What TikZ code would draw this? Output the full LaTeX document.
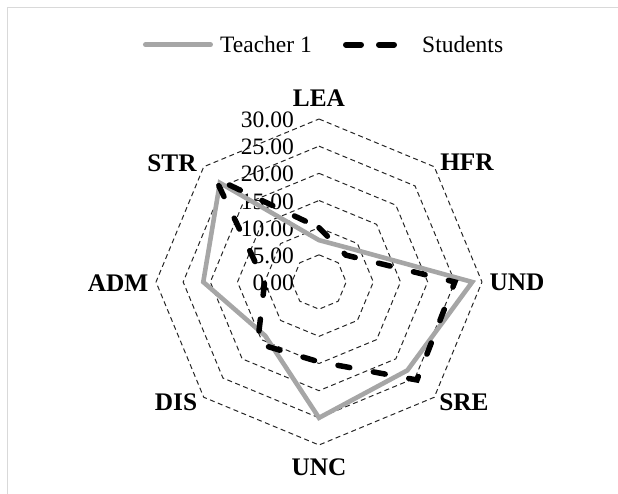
\documentclass[tikz,border=0pt]{standalone}
\usepackage{fontspec}
\setmainfont{Liberation Serif}
\definecolor{teachgray}{RGB}{166,166,166}
\definecolor{framegray}{RGB}{217,217,217}
\begin{document}
\begin{tikzpicture}[x=1pt,y=1pt,
  ring/.style={draw=black!85, line width=1pt, dash pattern=on 5pt off 3.5pt, line join=round},
  teacher/.style={draw=teachgray, line width=4.6pt, line join=miter},
  students/.style={draw=black, line width=5.5pt, dash pattern=on 12pt off 24pt, line cap=round, line join=miter},
  axlab/.style={font=\fontsize{25.3}{28}\selectfont\bfseries, inner sep=0pt},
  ticklab/.style={font=\fontsize{23.5}{28}\selectfont, inner sep=0pt, anchor=east},
  leglab/.style={font=\fontsize{23.5}{28}\selectfont, inner sep=0pt, anchor=west}]
\useasboundingbox (-319,-211) rectangle (299,282);
\clip (-319,-211) rectangle (299,282);
\def\u{5.4333}
% frame
\coordinate (frBL) at (-311,-230);
\coordinate (frTL) at (-311,274);
\coordinate (frTR) at (320,274);
\draw[framegray, line width=1pt] (frBL) -- (frTL) -- (frTR);
% rings
\foreach \v in {5,10,15,20,25,30}{
  \draw[ring] (90:{\v*\u}) -- (45:{\v*\u}) -- (0:{\v*\u}) -- (-45:{\v*\u}) -- (-90:{\v*\u}) -- (-135:{\v*\u}) -- (180:{\v*\u}) -- (135:{\v*\u}) -- cycle;
}
% tick labels
\foreach \v/\t in {0/0.00,5/5.00,10/10.00,15/15.00,20/20.00,25/25.00,30/30.00}{
  \node[ticklab] (tick\v) at (-25,{\v*\u-1}) {\t};
}
% axis labels
\node[axlab] (lea) at (0,184) {LEA};
\node[axlab] (hfr) at (148,120) {HFR};
\node[axlab] (und) at (198,0) {UND};
\node[axlab] (sre) at (145,-120) {SRE};
\node[axlab] (unc) at (0,-185) {UNC};
\node[axlab] (dis) at (-143,-120) {DIS};
\node[axlab] (adm) at (-201,-1) {ADM};
\node[axlab] (str) at (-147,119) {STR};
% teacher data
\coordinate (t1) at (90:{7.7*\u});
\coordinate (t2) at (45:{8.6*\u});
\coordinate (t3) at (0:{28.2*\u});
\coordinate (t4) at (-45:{23*\u});
\coordinate (t5) at (-90:{25*\u});
\coordinate (t6) at (-135:{14*\u});
\coordinate (t7) at (180:{21.3*\u});
\coordinate (t8) at (135:{25.8*\u});
\draw[teacher] (t1) -- (t2) -- (t3) -- (t4) -- (t5) -- (t6) -- (t7) -- (t8) -- cycle;
% students data
\coordinate (s1) at (90:{10*\u});
\coordinate (s2) at (45:{7*\u});
\coordinate (s3) at (0:{25*\u});
\coordinate (s4) at (-45:{25.5*\u});
\coordinate (s5) at (-90:{14.7*\u});
\coordinate (s6) at (-135:{16*\u});
\coordinate (s7) at (180:{10*\u});
\coordinate (s8) at (135:{27*\u});
\draw[students] (s1) -- (s2) -- (s3) -- (s4) -- (s5) -- (s6) -- (s7) -- (s8) -- cycle;
% legend
\coordinate (lgA) at (-173.5,237.3);
\coordinate (lgB) at (-108.5,237.3);
\draw[teacher, line width=5pt, line cap=round] (lgA) -- (lgB);
\node[leglab] (legT) at (-99,237.8) {Teacher 1};
\coordinate (lsA) at (27,237.3);
\coordinate (lsB) at (75,237.3);
\draw[students, line width=6pt, dash pattern=on 15pt off 18pt] (lsA) -- (lsB);
\node[leglab] (legS) at (103,237.8) {Students};
\end{tikzpicture}
\end{document}
